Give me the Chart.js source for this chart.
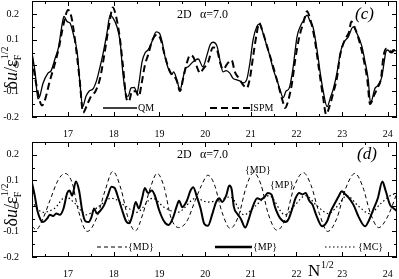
<!DOCTYPE html>
<html>
<head>
<meta charset="utf-8">
<script src="https://cdn.jsdelivr.net/npm/chart.js@4.4.0/dist/chart.umd.min.js"></script>
<style>
  html, body { margin: 0; padding: 0; background: #fff; }
  #wrap { position: relative; width: 399px; height: 279px; }
  canvas { position: absolute; left: 0; }
</style>
</head>
<body>
<div id="wrap">
  <canvas id="panelC" width="399" height="140" style="top:0"></canvas>
  <canvas id="panelD" width="399" height="140" style="top:139px"></canvas>
</div>
<script>
// axis ticks
const xMajor = [17, 18, 19, 20, 21, 22, 23, 24];
const xMinor = [16.5, 17.5, 18.5, 19.5, 20.5, 21.5, 22.5, 23.5];
const yMajor = [-0.2, -0.1, 0, 0.1, 0.2];
const yMinor = [-0.15, -0.05, 0.05, 0.15];

// panel (c): QM (solid) and ISPM (dashed), points [N^1/2, du]
const qmPts = [[16.21,0.05],[16.28,-0.03],[16.34,-0.13],[16.38,-0.12],[16.45,-0.07],[16.56,-0.03],[16.63,-0.02],[16.72,0.03],[16.79,0.07],[16.87,0.16],[16.91,0.19],[16.98,0.17],[17.04,0.165],[17.11,0.125],[17.2,0.05],[17.26,-0.07],[17.32,-0.16],[17.39,-0.12],[17.46,-0.1],[17.55,-0.09],[17.63,-0.055],[17.7,-0.005],[17.77,0.05],[17.85,0.125],[17.92,0.195],[17.98,0.185],[18.07,0.15],[18.14,0.09],[18.2,-0.03],[18.27,-0.115],[18.31,-0.12],[18.38,-0.087],[18.45,-0.085],[18.51,-0.107],[18.55,-0.07],[18.62,0.015],[18.69,0.05],[18.75,0.06],[18.83,0.09],[18.93,0.13],[19.0,0.125],[19.06,0.09],[19.12,0.035],[19.19,-0.01],[19.27,-0.035],[19.31,-0.025],[19.38,-0.055],[19.45,-0.095],[19.51,-0.055],[19.56,-0.015],[19.63,-0.005],[19.71,0.01],[19.78,0.02],[19.85,0.025],[19.95,-0.005],[20.04,0.04],[20.11,0.08],[20.17,0.09],[20.26,0.075],[20.33,0.015],[20.39,-0.025],[20.46,-0.02],[20.54,-0.03],[20.61,-0.05],[20.68,-0.055],[20.76,-0.06],[20.83,-0.068],[20.91,-0.055],[20.98,0.01],[21.05,0.1],[21.13,0.15],[21.18,0.16],[21.26,0.13],[21.35,0.075],[21.42,0.035],[21.49,-0.015],[21.57,-0.055],[21.64,-0.095],[21.71,-0.125],[21.77,-0.1],[21.84,-0.088],[21.92,-0.015],[22.01,0.11],[22.08,0.15],[22.16,0.177],[22.23,0.195],[22.3,0.17],[22.36,0.15],[22.45,0.06],[22.52,-0.03],[22.58,-0.095],[22.67,-0.16],[22.75,-0.12],[22.8,-0.095],[22.89,-0.025],[22.95,0.04],[23.02,0.085],[23.13,0.11],[23.24,0.15],[23.32,0.125],[23.43,0.075],[23.5,0.015],[23.57,-0.055],[23.62,-0.145],[23.72,-0.088],[23.77,-0.08],[23.87,-0.043],[23.92,0.015],[23.96,0.055],[24.0,0.06],[24.06,0.05],[24.11,0.06],[24.2,0.055]];

const ispmPts = [[16.21,0.03],[16.3,-0.07],[16.43,-0.155],[16.5,-0.13],[16.6,-0.06],[16.7,0.0],[16.8,0.07],[16.9,0.16],[17.0,0.215],[17.07,0.19],[17.15,0.1],[17.25,-0.05],[17.33,-0.183],[17.4,-0.16],[17.5,-0.12],[17.6,-0.1],[17.7,-0.05],[17.8,0.05],[17.9,0.16],[17.98,0.225],[18.05,0.19],[18.13,0.11],[18.2,0.0],[18.28,-0.13],[18.33,-0.14],[18.4,-0.1],[18.48,-0.1],[18.55,-0.12],[18.6,-0.08],[18.68,0.0],[18.75,0.04],[18.85,0.1],[18.95,0.12],[19.03,0.1],[19.1,0.05],[19.18,0.0],[19.25,-0.03],[19.32,-0.04],[19.38,-0.06],[19.45,-0.1],[19.52,-0.05],[19.6,0.01],[19.67,0.04],[19.75,0.03],[19.83,-0.01],[19.89,-0.03],[19.95,-0.015],[20.07,0.015],[20.17,0.07],[20.26,0.06],[20.33,0.01],[20.39,-0.015],[20.5,0.01],[20.58,0.02],[20.65,-0.025],[20.74,-0.05],[20.83,-0.075],[20.91,-0.088],[20.98,-0.05],[21.05,0.035],[21.13,0.125],[21.18,0.165],[21.27,0.125],[21.38,0.06],[21.49,-0.005],[21.6,-0.075],[21.7,-0.14],[21.75,-0.165],[21.82,-0.135],[21.9,-0.07],[21.97,0.02],[22.06,0.11],[22.15,0.165],[22.23,0.21],[22.3,0.18],[22.4,0.1],[22.5,-0.025],[22.58,-0.12],[22.65,-0.19],[22.72,-0.16],[22.8,-0.11],[22.89,-0.043],[22.95,0.035],[23.06,0.1],[23.15,0.13],[23.2,0.17],[23.28,0.145],[23.39,0.085],[23.48,0.015],[23.55,-0.055],[23.61,-0.15],[23.7,-0.115],[23.77,-0.088],[23.85,-0.05],[23.9,0.03],[23.96,0.065],[24.0,0.065],[24.08,0.05],[24.15,0.06],[24.2,0.06]];

// panel (d): {MD} dashed, {MP} thick solid, {MC} dotted
const mdPts = [[16.21,-0.08],[16.3,-0.093],[16.45,-0.05],[16.6,0.02],[16.78,0.1],[16.93,0.127],[17.09,0.09],[17.22,-0.015],[17.42,-0.1],[17.63,-0.045],[17.81,0.06],[17.98,0.135],[18.16,0.065],[18.31,-0.045],[18.47,-0.098],[18.64,-0.03],[18.8,0.07],[18.95,0.127],[19.1,0.075],[19.25,-0.045],[19.42,-0.085],[19.6,-0.06],[19.78,0.02],[19.92,0.08],[20.06,0.12],[20.2,0.085],[20.37,-0.025],[20.55,-0.088],[20.73,-0.04],[20.9,0.075],[21.06,0.13],[21.22,0.085],[21.38,-0.03],[21.57,-0.095],[21.76,-0.05],[21.95,0.075],[22.15,0.13],[22.32,0.08],[22.5,-0.03],[22.68,-0.1],[22.88,-0.05],[23.08,0.07],[23.28,0.127],[23.45,0.075],[23.62,-0.03],[23.8,-0.085],[24.0,-0.04],[24.2,0.05]];

const mpPts = [[16.21,0.09],[16.27,0.04],[16.33,-0.02],[16.4,-0.055],[16.45,-0.063],[16.54,-0.05],[16.6,-0.035],[16.67,-0.04],[16.74,-0.03],[16.82,-0.035],[16.9,-0.01],[16.98,0.05],[17.03,0.06],[17.09,0.04],[17.17,0.095],[17.24,0.06],[17.31,-0.02],[17.38,-0.06],[17.45,-0.063],[17.51,-0.045],[17.57,-0.01],[17.63,-0.03],[17.7,-0.02],[17.78,0.0],[17.87,0.04],[17.95,0.075],[18.02,0.07],[18.1,0.03],[18.18,-0.015],[18.27,-0.06],[18.34,-0.068],[18.41,-0.035],[18.48,0.015],[18.55,-0.01],[18.62,0.03],[18.68,0.07],[18.75,0.05],[18.83,0.06],[18.9,0.04],[18.99,-0.015],[19.1,-0.06],[19.2,-0.075],[19.3,-0.045],[19.38,0.0],[19.43,0.02],[19.5,-0.005],[19.6,0.02],[19.68,0.06],[19.74,0.073],[19.82,0.035],[19.9,-0.01],[19.98,-0.07],[20.06,-0.078],[20.16,-0.03],[20.24,0.015],[20.31,0.03],[20.37,0.015],[20.46,0.04],[20.53,0.08],[20.58,0.065],[20.63,-0.005],[20.7,-0.03],[20.78,-0.05],[20.88,-0.085],[20.95,-0.055],[21.02,-0.015],[21.14,0.03],[21.22,0.025],[21.3,0.035],[21.37,0.05],[21.45,0.045],[21.53,-0.005],[21.64,-0.048],[21.76,-0.063],[21.83,-0.05],[21.9,-0.015],[21.98,0.03],[22.06,0.05],[22.13,0.045],[22.2,0.05],[22.28,0.02],[22.35,0.005],[22.43,-0.035],[22.56,-0.08],[22.67,-0.06],[22.74,-0.025],[22.84,0.01],[22.93,0.04],[22.99,0.057],[23.07,0.045],[23.15,0.03],[23.25,0.003],[23.36,-0.043],[23.5,-0.08],[23.59,-0.055],[23.68,-0.015],[23.78,0.03],[23.88,0.095],[23.95,0.06],[24.05,0.003],[24.13,-0.01],[24.2,-0.02]];

const mcPts = [[16.21,0.02],[16.3,-0.005],[16.45,-0.025],[16.7,-0.01],[16.95,0.035],[17.15,0.01],[17.4,-0.035],[17.65,-0.005],[17.95,0.03],[18.25,0.0],[18.5,-0.025],[18.85,0.03],[19.1,-0.005],[19.4,-0.025],[19.8,0.03],[20.05,0.015],[20.25,0.02],[20.55,0.035],[20.85,-0.035],[21.1,0.0],[21.4,0.04],[21.75,-0.035],[21.95,0.0],[22.2,0.04],[22.45,0.0],[22.7,-0.03],[22.9,0.0],[23.1,0.04],[23.35,0.0],[23.6,-0.03],[23.85,0.01],[24.05,0.04],[24.2,0.05]];

const SERIF = '"Liberation Serif", "DejaVu Serif", serif';
const toXY = pts => pts.map(p => ({ x: p[0], y: p[1] }));

function line(pts, width, dash) {
  return {
    data: toXY(pts), borderColor: '#000', borderWidth: width, borderDash: dash || [],
    pointRadius: 0, fill: false, cubicInterpolationMode: 'monotone'
  };
}

function txt(ctx, s, x, y, font, align) {
  ctx.font = font;
  ctx.textAlign = align || 'left';
  ctx.textBaseline = 'middle';
  ctx.fillStyle = '#000';
  ctx.fillText(s, x, y);
}

function legendLine(ctx, x1, x2, y, width, dash) {
  ctx.save();
  ctx.strokeStyle = '#000';
  ctx.lineWidth = width;
  ctx.setLineDash(dash || []);
  ctx.beginPath(); ctx.moveTo(x1, y); ctx.lineTo(x2, y); ctx.stroke();
  ctx.restore();
}

// y label  du/eF^(1/2), rotated
function yLabel(ctx, cx, cy) {
  ctx.save();
  ctx.translate(cx, cy);
  ctx.rotate(-Math.PI / 2);
  ctx.fillStyle = '#000';
  ctx.textBaseline = 'alphabetic';
  ctx.textAlign = 'left';
  const big = '18px ' + SERIF, bigI = 'italic 18px ' + SERIF, small = '10px ' + SERIF;
  const parts = [['δ', big], ['u', bigI], ['/', big], ['ε', big]];
  let w = 0;
  parts.forEach(p => { ctx.font = p[1]; w += ctx.measureText(p[0]).width; });
  ctx.font = small; const wSup = ctx.measureText('1/2').width;
  let x = -(w + wSup) / 2;
  parts.forEach(p => { ctx.font = p[1]; ctx.fillText(p[0], x, 0); x += ctx.measureText(p[0]).width; });
  ctx.font = small;
  ctx.fillText('F', x - 1, 4);
  ctx.fillText('1/2', x, -9);
  ctx.restore();
}

// frame with inward ticks on all sides, then the panel's texts
function framePlugin(decor) {
  return {
    id: 'frame',
    afterDraw(chart) {
      const { ctx, chartArea: a } = chart;
      const sx = chart.scales.x, sy = chart.scales.y;
      ctx.save();
      ctx.strokeStyle = '#000';
      ctx.lineWidth = 1;
      ctx.setLineDash([]);
      ctx.strokeRect(a.left + 0.5, a.top + 0.5, a.right - a.left - 1, a.bottom - a.top - 1);
      ctx.beginPath();
      const xt = (v, len) => {
        const p = Math.round(sx.getPixelForValue(v)) + 0.5;
        ctx.moveTo(p, a.bottom); ctx.lineTo(p, a.bottom - len);
        ctx.moveTo(p, a.top); ctx.lineTo(p, a.top + len);
      };
      const yt = (v, len) => {
        const p = Math.round(sy.getPixelForValue(v)) + 0.5;
        ctx.moveTo(a.left, p); ctx.lineTo(a.left + len, p);
        ctx.moveTo(a.right, p); ctx.lineTo(a.right - len, p);
      };
      xMajor.forEach(v => xt(v, 5));
      xMinor.forEach(v => xt(v, 3));
      yMajor.forEach(v => yt(v, 5));
      yMinor.forEach(v => yt(v, 3));
      ctx.stroke();
      ctx.restore();
      ctx.save();
      decor(ctx);
      ctx.restore();
    }
  };
}

function options(xAxisHeight, padTop) {
  return {
    responsive: false,
    animation: false,
    devicePixelRatio: 1,
    layout: { padding: { left: 0, right: 2, top: padTop, bottom: 0 } },
    plugins: { legend: { display: false }, tooltip: { enabled: false } },
    scales: {
      x: {
        type: 'linear', min: 16.21, max: 24.2,
        grid: { display: false }, border: { display: false },
        afterBuildTicks: s => { s.ticks = xMajor.map(v => ({ value: v })); },
        afterFit: s => { s.height = xAxisHeight; s.paddingLeft = 0; s.paddingRight = 0; },
        ticks: { color: '#000', padding: 3, maxRotation: 0, font: { family: SERIF, size: 10 } }
      },
      y: {
        type: 'linear', min: -0.2, max: 0.25,
        grid: { display: false }, border: { display: false },
        afterBuildTicks: s => { s.ticks = yMajor.map(v => ({ value: v })); },
        afterFit: s => { s.width = 32; s.paddingTop = 0; s.paddingBottom = 0; },
        ticks: {
          color: '#000', padding: 5, font: { family: SERIF, size: 10 },
          callback: v => { const r = Math.round(v * 10) / 10; return r === 0 ? '0' : r.toFixed(1); }
        }
      }
    }
  };
}

new Chart(document.getElementById('panelC'), {
  type: 'line',
  data: { datasets: [line(qmPts, 1.3), line(ispmPts, 2, [7, 4])] },
  options: options(23, 1),
  plugins: [framePlugin(ctx => {
    txt(ctx, '2D', 177, 15, '12px ' + SERIF);
    txt(ctx, 'α=7.0', 200, 15, '12px ' + SERIF);
    txt(ctx, '(c)', 355, 15, 'italic 17px ' + SERIF);
    legendLine(ctx, 103, 137, 108, 1.3);
    txt(ctx, 'QM', 138, 108, '10px ' + SERIF);
    legendLine(ctx, 210, 250, 108, 2, [7, 4]);
    txt(ctx, 'ISPM', 250, 108, '10px ' + SERIF);
    yLabel(ctx, 17, 68);
  })]
});

new Chart(document.getElementById('panelD'), {
  type: 'line',
  data: { datasets: [line(mdPts, 1, [4, 3]), line(mcPts, 1.2, [1.5, 2.5]), line(mpPts, 2)] },
  options: options(22, 3),
  plugins: [framePlugin(ctx => {
    txt(ctx, '2D', 177, 16, '12px ' + SERIF);
    txt(ctx, 'α=7.0', 200, 16, '12px ' + SERIF);
    txt(ctx, '(d)', 357, 16, 'italic 17px ' + SERIF);
    txt(ctx, '{MD}', 245, 31, '10px ' + SERIF);
    txt(ctx, '{MP}', 270, 46, '10px ' + SERIF);
    legendLine(ctx, 97, 127, 108, 1, [4, 3]);
    txt(ctx, '{MD}', 128, 108, '10px ' + SERIF);
    legendLine(ctx, 215, 252, 108, 2.5);
    txt(ctx, '{MP}', 253, 108, '10px ' + SERIF);
    legendLine(ctx, 325, 357, 108, 1.2, [1.5, 2.5]);
    txt(ctx, '{MC}', 358, 108, '10px ' + SERIF);
    ctx.font = '17px ' + SERIF; ctx.textAlign = 'left'; ctx.textBaseline = 'alphabetic';
    ctx.fillStyle = '#000';
    ctx.fillText('N', 308, 137);
    ctx.font = '10px ' + SERIF;
    ctx.fillText('1/2', 321, 129);
    yLabel(ctx, 17, 66);
  })]
});
</script>
</body>
</html>
